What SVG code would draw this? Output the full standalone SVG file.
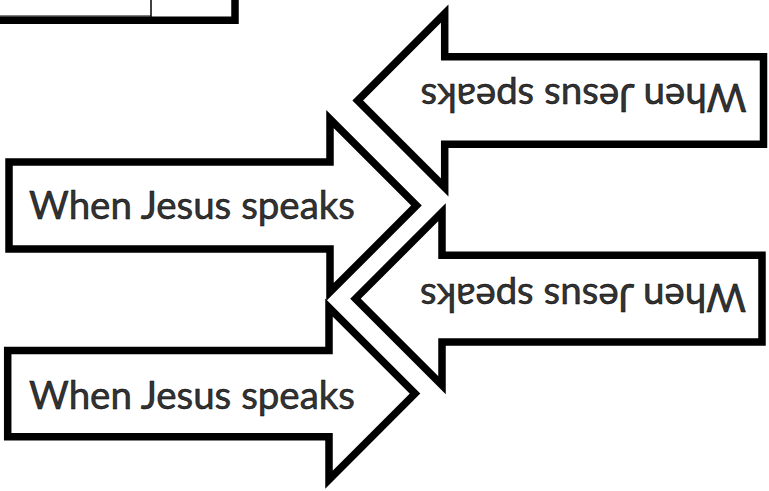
<svg xmlns="http://www.w3.org/2000/svg" width="769" height="491" viewBox="0 0 769 491">
<style>
.arrow{fill:#fff;stroke:#000;stroke-width:7.5;stroke-linejoin:miter;stroke-miterlimit:10}
.lbl{font-family:Lato,"Open Sans","Liberation Sans",sans-serif;font-size:38px;fill:#333;stroke:#000;stroke-width:0.5;text-anchor:middle}
</style>
<rect width="769" height="491" fill="#fff"/>
<g id="partial-top">
<path d="M0,20.3 H235 V-10" fill="none" stroke="#000" stroke-width="7.5"/>
<line x1="151" y1="0" x2="151" y2="17" stroke="#000" stroke-width="1.5"/>
<line x1="0" y1="16" x2="151" y2="16" stroke="#000" stroke-width="1.2"/>
</g>
<g id="arrow1">
<polygon class="arrow" points="763.5,56.7 444.7,56.7 444.7,13.5 357.7,100.5 444.7,187.5 444.7,144.3 763.5,144.3"/>
<text class="lbl" transform="translate(583.5,84) rotate(180)" textLength="326" lengthAdjust="spacingAndGlyphs">When Jesus speaks</text>
</g>
<g id="arrow2">
<polygon class="arrow" points="762,255.3 442,255.3 442,212.2 355.5,298.7 442,385.2 442,342 762,342"/>
<text class="lbl" transform="translate(583,283.5) rotate(180)" textLength="326" lengthAdjust="spacingAndGlyphs">When Jesus speaks</text>
</g>
<g id="arrow3">
<polygon class="arrow" points="9,162 330,162 330,119 416.5,205.5 330,292 330,249 9,249"/>
<text class="lbl" x="192" y="219.3" textLength="326" lengthAdjust="spacingAndGlyphs">When Jesus speaks</text>
</g>
<g id="arrow4">
<polygon class="arrow" points="7.7,350.5 329,350.5 329,307.6 415,393.6 329,479.6 329,436.7 7.7,436.7"/>
<text class="lbl" x="192" y="408.5" textLength="326" lengthAdjust="spacingAndGlyphs">When Jesus speaks</text>
</g>
<g id="connectors"></g>
</svg>
